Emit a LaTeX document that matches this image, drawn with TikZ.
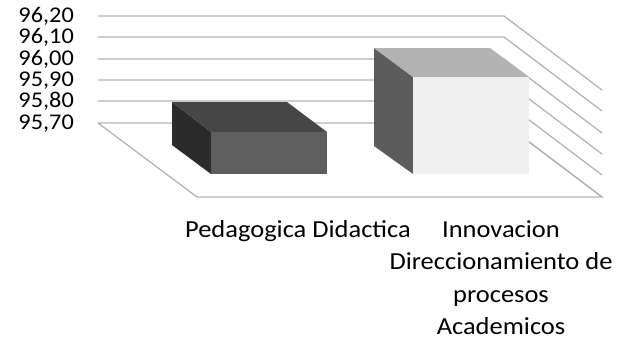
\documentclass[tikz,border=0pt]{standalone}
\usepackage{fontspec}
\setmainfont{Carlito}[FakeStretch=1.08]
\definecolor{gridc}{HTML}{B4B4B4}
\definecolor{baronefront}{HTML}{5E5E5E}
\definecolor{baronetop}{HTML}{464646}
\definecolor{baroneside}{HTML}{2B2B2B}
\definecolor{bartwofront}{HTML}{EFEFEF}
\definecolor{bartwotop}{HTML}{B3B3B3}
\definecolor{bartwoside}{HTML}{5C5C5C}
\tikzset{
  gridline/.style={draw=gridc, line width=1.3pt},
  ticklabel/.style={anchor=east, inner sep=0pt, text height=12pt, text depth=0pt, font=\fontsize{22.5}{22.5}\selectfont},
  catlabel/.style={anchor=north, inner sep=0pt, align=center, font=\fontsize{24.5}{32.5}\selectfont},
}
\begin{document}
\begin{tikzpicture}[x=1pt,y=-1pt]
\useasboundingbox (0,0) rectangle (617,341);
% back wall gridlines and side wall lines
\foreach \yy in {16,37,59,80,101,123}{
  \draw[gridline] (98,\yy) -- (504,\yy) -- (602,\yy+74);
}
% floor
\draw[gridline] (98,123) -- (197,197) -- (602,197) -- (504,123);
% tick labels
\node[ticklabel] (t1) at (74,16) {96,20};
\node[ticklabel] (t2) at (74,37) {96,10};
\node[ticklabel] (t3) at (74,59) {96,00};
\node[ticklabel] (t4) at (74,80) {95,90};
\node[ticklabel] (t5) at (74,101) {95,80};
\node[ticklabel] (t6) at (74,123) {95,70};
% bar 1
\fill[baroneside] (172,102) -- (211,132) -- (211,174) -- (172,145) -- cycle;
\fill[baronetop] (172,102) -- (287,102) -- (327,132) -- (211,132) -- cycle;
\fill[baronefront] (211,132) rectangle (327,174);
% bar 2
\fill[bartwoside] (374,48) -- (413,77) -- (413,174) -- (374,146) -- cycle;
\fill[bartwotop] (374,48) -- (490,48) -- (529,77) -- (413,77) -- cycle;
\fill[bartwofront] (413,77) rectangle (529,174);
% category labels
\node[catlabel] (c1) at (298,220) {Pedagogica Didactica};
\node[catlabel] (c2) at (501,220) {Innovacion\\Direccionamiento de\\procesos\\Academicos};
\end{tikzpicture}
\end{document}
